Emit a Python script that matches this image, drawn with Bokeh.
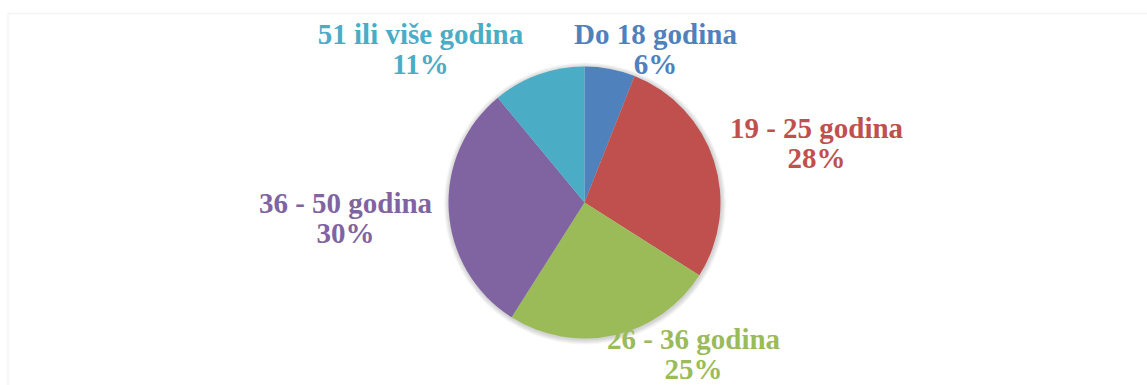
import numpy as np
from bokeh.plotting import figure
from bokeh.models import Range1d, ColumnDataSource, BoxAnnotation
from bokeh.core.properties import value
from bokeh.embed import file_html
from bokeh.resources import INLINE

# ---- data ----
categories = ["Do 18 godina", "19 - 25 godina", "26 - 36 godina", "36 - 50 godina", "51 ili više godina"]
percents = [6, 28, 25, 30, 11]
colors = ["#4F81BD", "#C0504D", "#9BBB59", "#8064A2", "#4BACC6"]

# label layout (center x, baseline of first line) in pixel coords of the plot
label_x = [655, 816, 693, 345, 420]
label_y = [352, 258, 47, 183, 352]

W, H = 1147, 385
p = figure(width=W, height=H, x_range=Range1d(0, W), y_range=Range1d(0, H),
           output_backend="svg", toolbar_location=None, min_border=0)
p.axis.visible = False
p.grid.visible = False
p.outline_line_color = None
p.background_fill_color = "white"
p.border_fill_color = "white"

# chart frame (top and left edges visible)
p.add_layout(BoxAnnotation(left=7.5, right=W + 50, top=372, bottom=-50,
                           fill_alpha=0, line_color="#d9d9d9", line_width=1.5))

cx, cy, r = 584, 183, 136

# soft shadow
for k in range(1, 6):
    p.circle(x=[cx + 0.5], y=[cy - 1], radius=r + k, fill_color="#000000",
             fill_alpha=0.035, line_color=None)

vals = np.array(percents, dtype=float)
frac = vals / vals.sum()
cum = np.concatenate([[0], np.cumsum(frac)])
start = np.pi / 2 - 2 * np.pi * cum[:-1]
end = np.pi / 2 - 2 * np.pi * cum[1:]

src = ColumnDataSource(dict(start=start, end=end, color=colors))
p.wedge(x=cx, y=cy, radius=r, start_angle="start", end_angle="end",
        direction="clock", fill_color="color", line_color=None, source=src)

lab = ColumnDataSource(dict(x=label_x, y1=label_y, y2=[v - 30 for v in label_y],
                            t1=categories, t2=[f"{v}%" for v in percents], color=colors))
for yk, tk in (("y1", "t1"), ("y2", "t2")):
    p.text(x="x", y=yk, text=tk, source=lab, text_color="color",
           text_font=value("Liberation Serif"), text_font_style="bold",
           text_font_size="29px", text_align="center", text_baseline="alphabetic")

open("out.html", "w").write(file_html(p, INLINE))
